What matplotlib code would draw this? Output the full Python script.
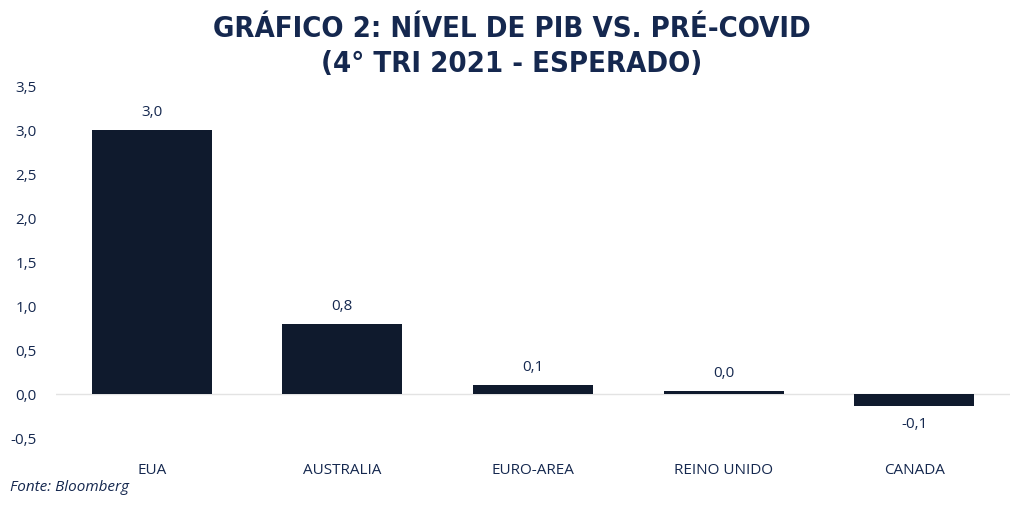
import matplotlib
matplotlib.use("Agg")
from matplotlib import pyplot as plt

countries = ["EUA", "AUSTRALIA", "EURO-AREA", "REINO UNIDO", "CANADA"]
values = [3.0, 0.8, 0.11, 0.035, -0.13]
labels = ["3,0", "0,8", "0,1", "0,0", "-0,1"]
yticks = [-0.5, 0.0, 0.5, 1.0, 1.5, 2.0, 2.5, 3.0, 3.5]

navy = "#15284f"
bar_color = "#0f1a2d"

plt.rcParams["font.family"] = ["Open Sans", "DejaVu Sans"]

fig = plt.figure(figsize=(10.24, 5.09), dpi=100)
ax = fig.add_axes([0.055, 0.139, 0.931, 0.692])

x = range(len(countries))
ax.bar(x, values, width=0.63, color=bar_color, zorder=3)
ax.axhline(0, color="#e3e3e3", linewidth=1, zorder=1)

for i, (v, lab) in enumerate(zip(values, labels)):
    if v >= 0:
        ax.annotate(lab, (i, v), xytext=(0, 7), textcoords="offset points",
                    ha="center", va="bottom", fontsize=11, color=navy)
    else:
        ax.annotate(lab, (i, v), xytext=(0, -8), textcoords="offset points",
                    ha="center", va="top", fontsize=11, color=navy)

ax.set_xlim(-0.5, len(countries) - 0.5)
ax.set_ylim(-0.5, 3.5)
ax.set_yticks(yticks)
ax.set_yticklabels([f"{t:.1f}".replace(".", ",") for t in yticks])
ax.set_xticks(list(x))
ax.set_xticklabels(countries)
ax.tick_params(axis="both", length=0, labelsize=11, labelcolor=navy)
ax.tick_params(axis="y", pad=14)
ax.tick_params(axis="x", pad=18)
for s in ax.spines.values():
    s.set_visible(False)

fig.text(0.5, 0.908, "GRÁFICO 2: NÍVEL DE PIB VS. PRÉ-COVID\n(4° TRI 2021 - ESPERADO)",
         ha="center", va="center", fontsize=21, fontweight="bold", color=navy,
         family=["DejaVu Sans"], fontstretch="condensed", linespacing=1.32)
fig.text(0.01, 0.035, "Fonte: Bloomberg", fontsize=11, style="italic", color=navy)

fig.savefig("out.png", dpi=100)
